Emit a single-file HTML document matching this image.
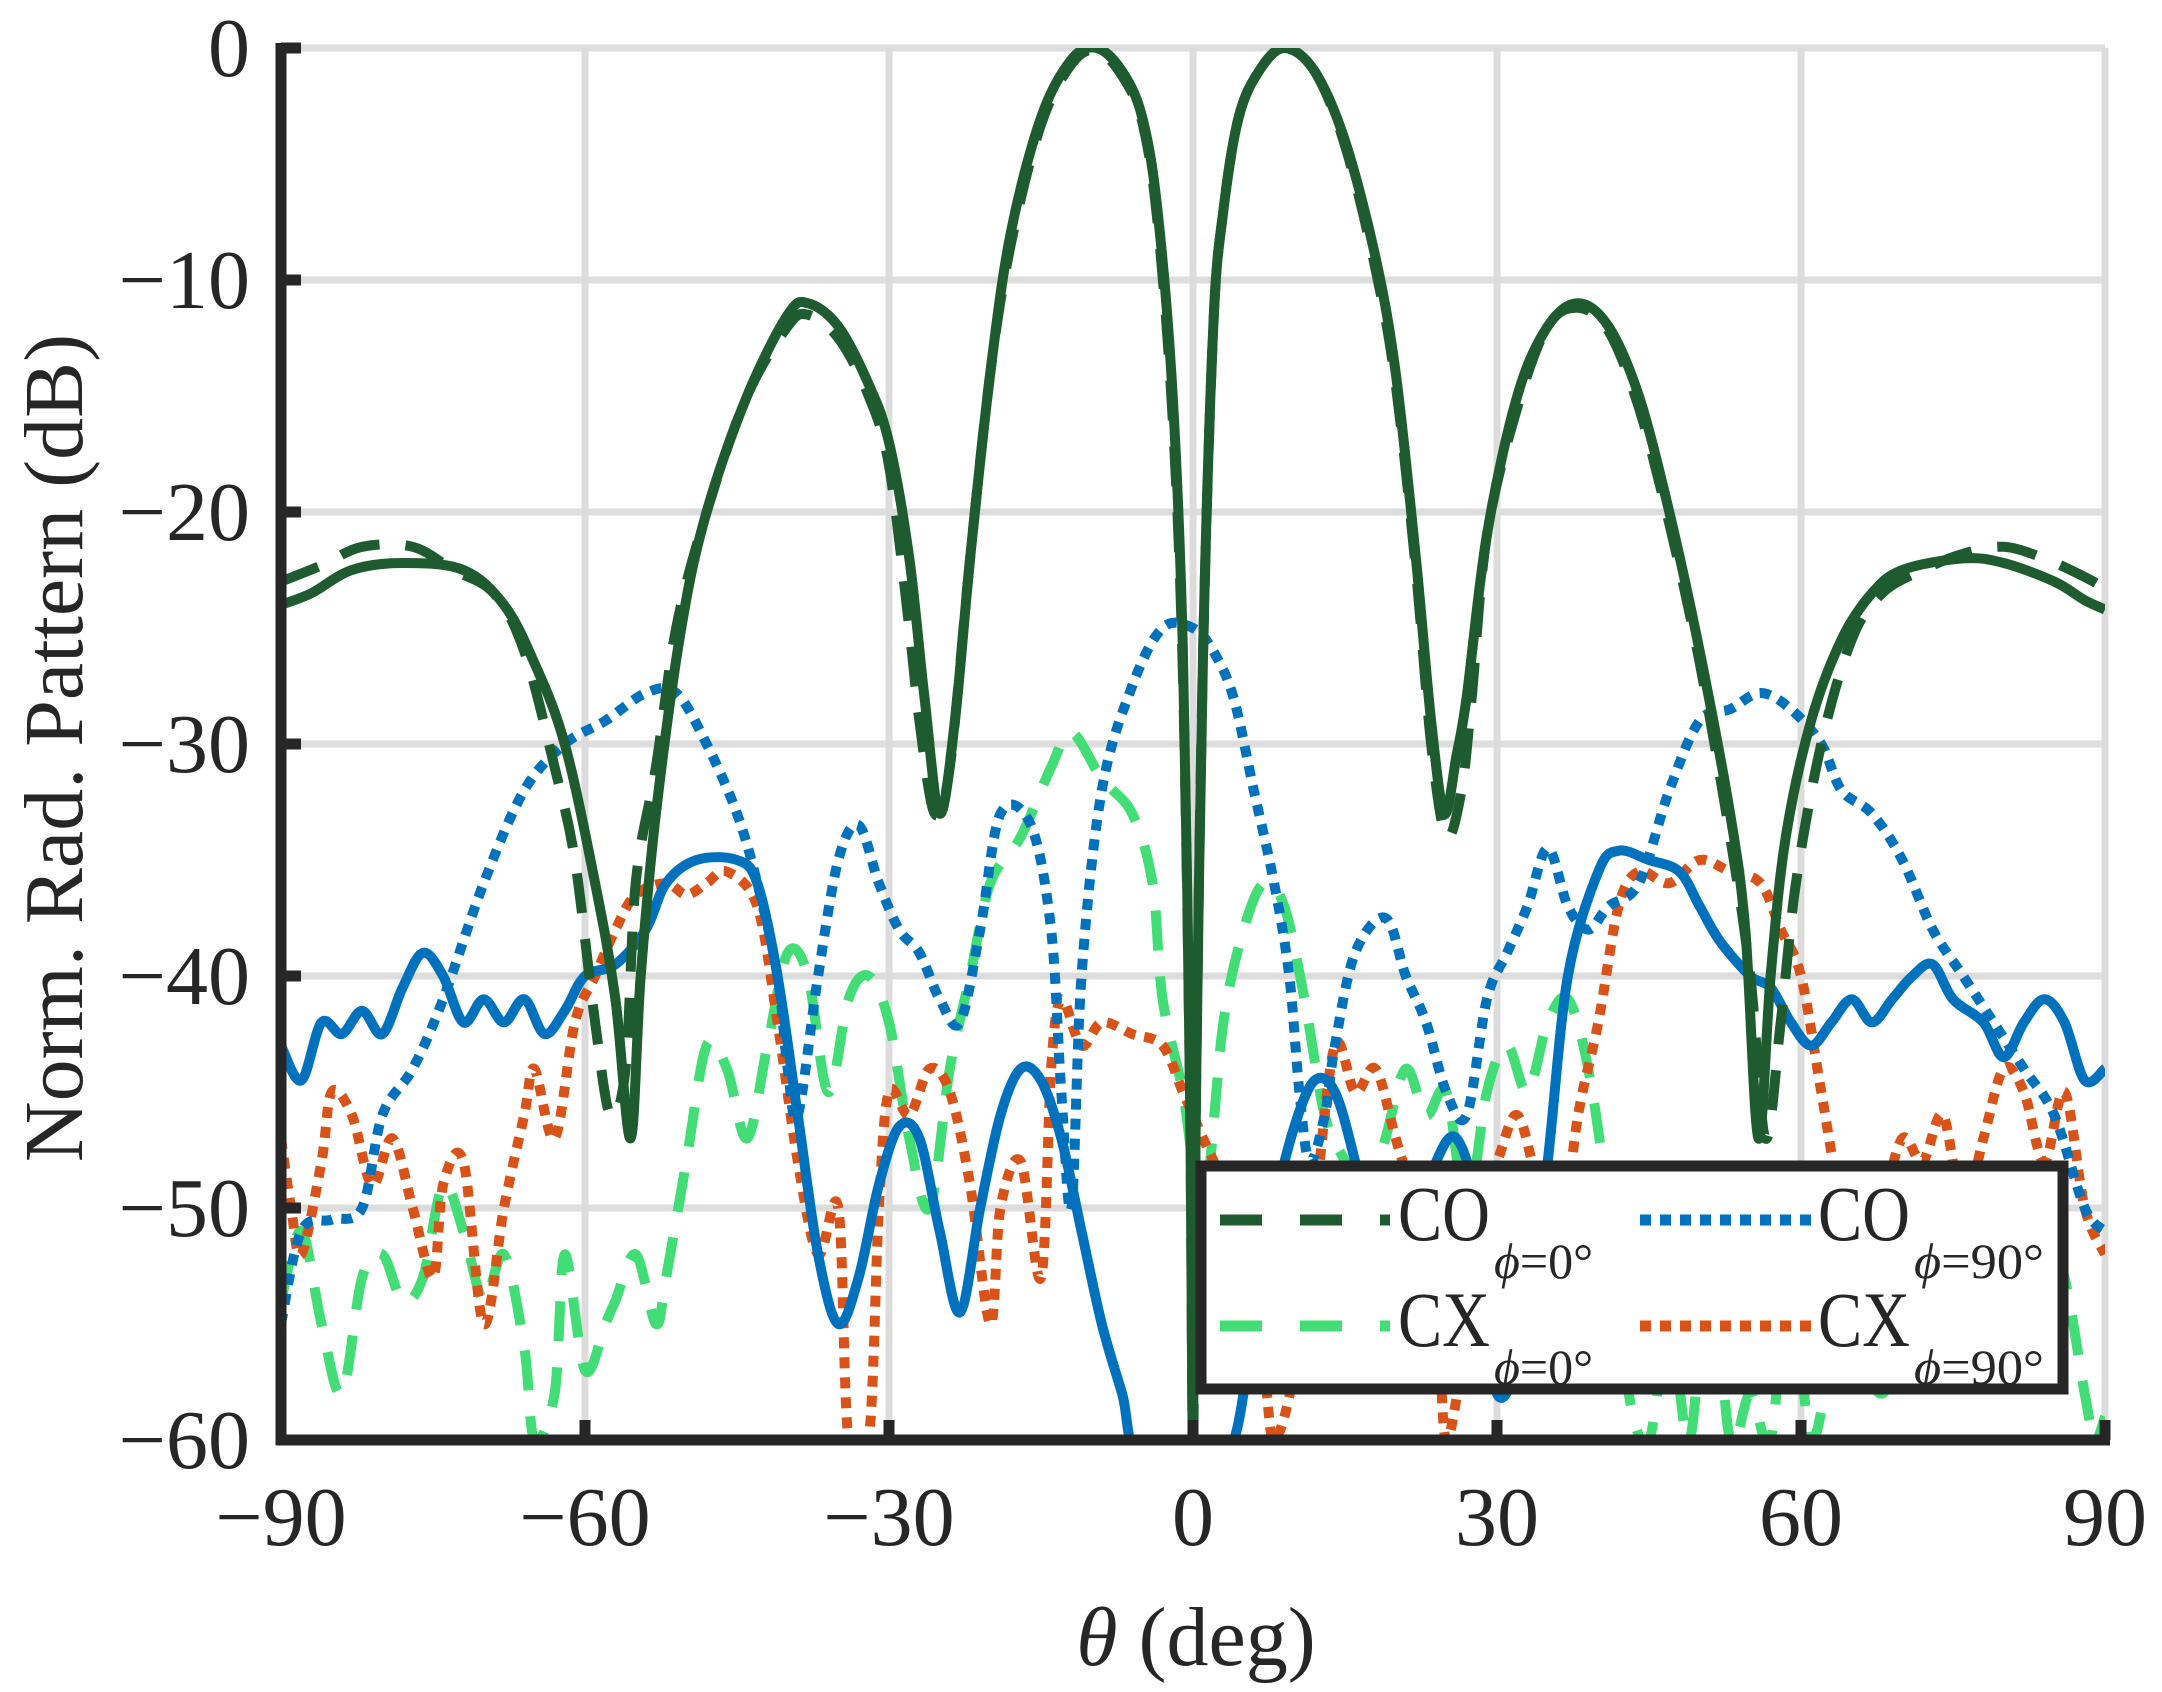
<!DOCTYPE html>
<html><head><meta charset="utf-8"><style>
html,body{margin:0;padding:0;background:#fff;}
svg{display:block;}
text{font-family:"Liberation Serif","Times New Roman",serif;fill:#262626;}
</style></head><body>
<svg id="s" width="2162" height="1692" viewBox="0 0 2162 1692" xmlns="http://www.w3.org/2000/svg">
<defs><clipPath id="c"><rect x="281" y="48" width="1824" height="1392"/></clipPath></defs>
<g id="grid" stroke="#dcdcdc" stroke-width="7"></g>
<g id="series" clip-path="url(#c)" fill="none" stroke-linejoin="round"></g>
<g id="axes"></g>
<g id="labels" font-size="84"></g>
<text x="1196" y="1665" font-size="84" text-anchor="middle"><tspan font-style="italic">θ</tspan> (deg)</text>
<text transform="translate(82,748) rotate(-90)" font-size="84" text-anchor="middle">Norm. Rad. Pattern (dB)</text>
<g id="legend">
<rect x="1201" y="1166" width="862" height="223" fill="#fff" stroke="#262626" stroke-width="11"/>
<line x1="1220" y1="1220" x2="1390" y2="1220" stroke="#1e5c30" stroke-width="11" stroke-dasharray="42,38"/>
<line x1="1220" y1="1326" x2="1390" y2="1326" stroke="#43dd76" stroke-width="11" stroke-dasharray="42,38"/>
<line x1="1640" y1="1220" x2="1812" y2="1220" stroke="#0072bd" stroke-width="11" stroke-dasharray="11,9"/>
<line x1="1640" y1="1326" x2="1812" y2="1326" stroke="#d95319" stroke-width="11" stroke-dasharray="11,9"/>
<text x="1398" y="1240" font-size="78" fill="#000" textLength="92" lengthAdjust="spacingAndGlyphs">CO</text>
<text x="1494" y="1278" font-size="50" fill="#000"><tspan font-style="italic">ϕ</tspan>=0°</text>
<text x="1398" y="1346" font-size="78" fill="#000" textLength="92" lengthAdjust="spacingAndGlyphs">CX</text>
<text x="1494" y="1384" font-size="50" fill="#000"><tspan font-style="italic">ϕ</tspan>=0°</text>
<text x="1818" y="1240" font-size="78" fill="#000" textLength="92" lengthAdjust="spacingAndGlyphs">CO</text>
<text x="1914" y="1278" font-size="50" fill="#000" textLength="130" lengthAdjust="spacingAndGlyphs"><tspan font-style="italic">ϕ</tspan>=90°</text>
<text x="1818" y="1346" font-size="78" fill="#000" textLength="92" lengthAdjust="spacingAndGlyphs">CX</text>
<text x="1914" y="1384" font-size="50" fill="#000" textLength="130" lengthAdjust="spacingAndGlyphs"><tspan font-style="italic">ϕ</tspan>=90°</text>
</g>
</svg>
<script>
var L=281,R=2105,T=48,B=1440;
function X(d){return L+(d+90)/180*(R-L);}
function Y(v){return T+(-v)/60*(B-T);}
var NS="http://www.w3.org/2000/svg";
function el(p,t,a){var e=document.createElementNS(NS,t);for(var k in a)e.setAttribute(k,a[k]);p.appendChild(e);return e;}
var g=document.getElementById('grid');
for(var d=-60;d<=90;d+=30)el(g,'line',{x1:X(d),y1:T,x2:X(d),y2:B});
for(var v=0;v>=-50;v-=10)el(g,'line',{x1:L,y1:Y(v),x2:R,y2:Y(v)});
var a=document.getElementById('axes');
el(a,'line',{x1:L,y1:T-5,x2:L,y2:B+5,stroke:'#262626','stroke-width':11});
el(a,'line',{x1:L-5,y1:B,x2:R+5,y2:B,stroke:'#262626','stroke-width':11});
for(var d=-60;d<=90;d+=30)el(a,'line',{x1:X(d),y1:B,x2:X(d),y2:B-20,stroke:'#262626','stroke-width':11});
for(var v=0;v>=-50;v-=10)el(a,'line',{x1:L,y1:Y(v),x2:L+20,y2:Y(v),stroke:'#262626','stroke-width':11});
var lb=document.getElementById('labels');
for(var v=0;v>=-60;v-=10){var t=el(lb,'text',{x:250,y:Y(v)+28,'text-anchor':'end'});t.textContent=v==0?'0':'\u2212'+(-v);}
for(var d=-90;d<=90;d+=30){var t=el(lb,'text',{x:X(d),y:1545,'text-anchor':'middle'});t.textContent=d<0?'\u2212'+(-d):''+d;}
function P(arr,col,dash,off){var p=[];for(var i=0;i<arr.length;i+=2)p.push([X(arr[i]+(off||0)),Y(arr[i+1])]);
var s='M'+p[0][0].toFixed(1)+' '+p[0][1].toFixed(1);
for(var i=0;i<p.length-1;i++){var p0=p[Math.max(0,i-1)],p1=p[i],p2=p[i+1],p3=p[Math.min(p.length-1,i+2)];
var c1x=p1[0]+(p2[0]-p0[0])/6,c1y=p1[1]+(p2[1]-p0[1])/6,c2x=p2[0]-(p3[0]-p1[0])/6,c2y=p2[1]-(p3[1]-p1[1])/6;
s+='C'+c1x.toFixed(1)+' '+c1y.toFixed(1)+' '+c2x.toFixed(1)+' '+c2y.toFixed(1)+' '+p2[0].toFixed(1)+' '+p2[1].toFixed(1);}
var at={d:s,stroke:col,'stroke-width':10};if(dash)at['stroke-dasharray']=dash;el(document.getElementById('series'),'path',at);}
var co0=[-90,-24,-87,-23.5,-83,-22.5,-78,-22.2,-72,-22.5,-68,-24,-65,-26.5,-62,-30,-59,-36,-57,-41,-55.5,-47,-54.5,-40,-53,-33,-50.5,-25,-48,-20,-44,-15,-40,-11.5,-38,-11,-35,-12,-32,-14.5,-30,-17,-28,-22,-26.5,-28,-25,-33,-23.5,-29,-22,-22,-20,-14,-18,-8,-15,-3,-12,-0.5,-9.5,0,-7,-1,-5,-3,-3.5,-7,-2,-15,-1,-26,-0.3,-45,0,-60,0.3,-45,1,-26,2,-12,3,-7,4.5,-3,6.5,-1,9,0,12,-1,15,-4,18,-9,20,-14,22,-22,23.5,-29,24.8,-33,26,-30.5,27,-28,29,-21,32,-15,35,-12,38,-11,41,-12,44,-15,47,-20,50,-26,53,-33,54.5,-38,55.8,-47,57,-40,58.5,-34,61,-29,64,-25.5,67,-23.5,70,-22.5,76,-22,80,-22.2,85,-23,88,-23.8,90,-24.2];
var co0d=[-90,-23,-86,-22.3,-82,-21.5,-77,-21.5,-73,-22.5,-69,-23.5,-66,-26,-63,-31,-61,-35,-59,-42,-57.5,-46,-56,-44,-55,-36,-53,-31,-51,-25,-48,-20,-44,-15,-40,-12,-38,-11.5,-35,-12.5,-32,-15,-30,-18,-28,-25,-27,-29,-25.5,-33,-24,-31,-22,-22,-20,-14,-18,-8.5,-15,-3.3,-12,-0.7,-9.5,-0.1,-7,-1.2,-5,-3.2,-3.5,-7.5,-2,-16,-1,-27,-0.3,-45,0,-60,0.3,-45,1,-26,2,-12,3,-7,4.5,-3,6.5,-1,9,0,12,-1,15,-4.2,18,-9.5,20,-14.5,22,-22.5,23.5,-30,25,-34,26.5,-32,27.5,-28,29,-21,32,-15.5,35,-12,38,-11.2,41,-12.2,44,-15.5,47,-20.5,50,-26.5,53,-34,55,-40,56.5,-47,58,-42,59.5,-36,62,-30,65,-25.5,68,-23.5,72,-22.5,76,-21.8,80,-21.5,84,-22,88,-22.8,90,-23.3];
var cx0=[-90,-54,-88,-51,-86,-55,-84,-58,-82,-53,-80,-52,-78,-54,-76,-53,-74,-49,-72,-51,-70,-54,-68,-52,-66,-56,-65,-60,-63,-58,-62,-52,-60,-57,-58,-55,-57,-54,-55,-52,-53,-55,-52,-53,-50,-48,-48,-43,-46,-44,-44,-47,-42,-43,-40,-39,-38,-40,-36,-45,-34,-41,-32,-40,-30,-42,-28,-47,-26,-50,-24,-44,-22,-40,-20,-36,-17,-34,-14,-31,-12,-29.5,-9,-31.5,-6,-33,-4,-36,-3,-41,-1,-45,1,-50,3,-42,5,-38,7,-36,9,-37,11,-41,13,-46,15,-48,17,-50,19,-47,21,-44,23,-46,25,-45,27,-50,29,-45,31,-43,33,-45,35,-42,37,-41,39,-44,41,-50,43,-58,45,-60,47,-55,49,-60,51,-52,53,-60,55,-58,57,-60,59,-52,61,-60,64,-55,68,-58,72,-54,76,-57,80,-53,84,-51,86,-53,88,-58,89,-60,90,-59];
var co90=[-90,-55,-88,-51,-85,-50.5,-82,-50,-80,-46,-77,-44,-74,-41,-70,-36,-66,-32,-62,-30,-58,-29,-54,-27.8,-51,-27.8,-48,-30,-45,-33,-43,-36,-41,-40,-40,-44,-39,-46,-37,-40,-35,-35,-33,-33.5,-31,-36,-29,-38,-27,-39,-25,-41,-23,-42,-21,-38,-19,-33,-16,-33.5,-14,-38,-13,-45,-12,-50,-11,-40,-9,-32,-6,-27.5,-3,-25,0,-25,2,-26,4,-28,6,-32,8,-36,9.5,-40,10.5,-45,11.5,-48,13,-46,14,-43,16,-39,19,-37.5,21,-40,23,-42,25,-45,27,-46,29,-41,31,-39,33,-37,35,-34.5,37,-37,39,-38,41,-37,44,-36,47,-32,50,-29,53,-28.5,56,-27.8,59,-28.5,62,-30,64,-32,67,-33,70,-35,73,-38,76,-40,79,-42,82,-44,85,-46,88,-50,90,-51];
var cx90=[-90,-47,-89,-50,-88,-52,-86,-48,-85,-45,-83,-46,-81,-49,-79,-47,-77,-50,-75,-53,-74,-49,-72,-48,-70,-55,-68,-50,-66,-46,-65,-44,-63,-47,-61,-42,-59,-40,-57,-38,-55,-36.5,-52,-36,-50,-36.5,-48,-36,-46,-35.5,-43,-37,-41,-42,-39,-48,-37,-52,-35,-50,-34,-60,-32,-60,-31,-50,-30,-45,-28,-46,-26,-44,-24,-45,-22,-49,-20,-55,-19,-50,-17,-48,-15,-53,-14,-44,-13,-41,-11,-43,-9,-42,-6,-42.5,-3,-43,-1,-45,1,-47,3,-49,5,-52,7,-57,8,-60,10,-57,12,-50,14,-43,16,-45,18,-44,20,-47,22,-50,24,-54,25,-60,27,-55,28,-50,30,-48,32,-46,34,-49,36,-52,38,-46,40,-42,42,-37,44,-35.5,47,-36,50,-35,53,-35.5,56,-36,58,-38,60,-40,62,-45,64,-50,66,-53,68,-50,70,-47,72,-48,74,-46,76,-50,78,-47,80,-44,82,-45,84,-48,86,-45,88,-50,90,-52];
var bl=[-90,-43,-88,-44.5,-86,-42,-84,-42.5,-82,-41.5,-80,-42.5,-78,-40.5,-76,-39,-74,-40,-72,-42,-70,-41,-68,-42,-66,-41,-64,-42.5,-62,-41.5,-60,-40,-57,-39.5,-54,-38,-52,-36,-49,-35,-45,-35,-43,-36,-41,-40,-39,-46,-37,-52,-35,-55,-33,-53,-31,-49,-29,-46.5,-27,-47,-25,-51,-23,-54.5,-21,-50,-19,-46,-17,-44,-15,-44.5,-13,-47,-11,-51,-9,-55,-7,-58,-5,-61,3,-61,6,-55,8,-50,10,-46.5,12,-44.5,14,-45,16,-48,18,-52,20,-55,22,-51,24,-48,26,-47,28,-50,30,-58,33,-55,35,-48,37,-40,40,-35.5,42,-34.6,45,-35,48,-35.5,50,-37,52,-38.5,55,-40,57,-40.5,59,-42,61,-43,63,-42,65,-41,67,-42,69,-41,71,-40,73,-39.5,75,-41,78,-42,80,-43.5,82,-42,84,-41,86,-42,88,-44.5,90,-44];
P(cx0,'#43dd76','40,26');
P(cx90,'#d95319','11,9');
P(co90,'#0072bd','11,9');
P(bl,'#0072bd',null);
P(co0d,'#1e5c30','40,26');
P(co0,'#1e5c30',null);
</script>
</body></html>
